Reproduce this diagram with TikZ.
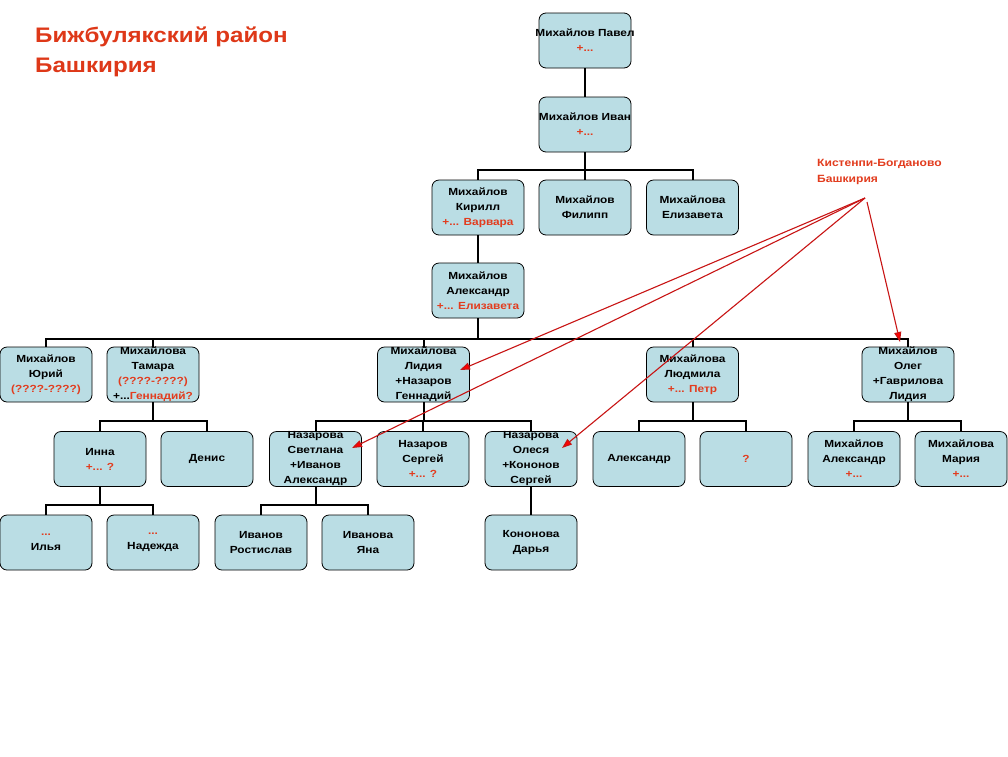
\documentclass[tikz,border=0pt]{standalone}
\usepackage{fontspec}
\setmainfont[FakeStretch=1.15]{Liberation Sans}
\usetikzlibrary{arrows.meta,calc}
\definecolor{boxfill}{RGB}{186,221,228}
\definecolor{redtxt}{RGB}{226,60,30}
\definecolor{titlered}{RGB}{222,56,24}
\definecolor{arrowred}{RGB}{200,20,20}
\newcommand{\rd}[1]{\textcolor{redtxt}{#1}}
\newcommand{\fit}[1]{\makebox[88pt][c]{#1}}
\begin{document}
\begin{tikzpicture}[x=1pt,y=-1pt,
  person/.style={draw=black,line width=0.8pt,fill=boxfill,rounded corners=7pt,
    minimum width=92pt,minimum height=55pt,inner sep=0pt,align=center,
    font=\fontsize{10.3}{15}\selectfont\bfseries},
  link/.style={draw=black,line width=2pt},
  note/.style={draw=arrowred,line width=1.1pt,-{Triangle[length=10pt,width=7pt,fill=red]}},
  title/.style={font=\fontsize{21}{30}\selectfont\bfseries,text=titlered,align=left,anchor=north west,inner sep=0pt},
  place/.style={font=\fontsize{10.5}{16}\selectfont\bfseries,text=redtxt,align=left,anchor=north west,inner sep=0pt}]
\useasboundingbox (0,0) rectangle (1008,756);
\fill[white] (0,0) rectangle (1008,756);

% title and annotation
\node[title] (ttl) at (35,27) {Бижбулякский район\\Башкирия};
\node[place] (plc) at (817,159) {Кистенпи-Богданово\\Башкирия};

% row 1-2
\node[person] (pavel) at (585,40.5) {\fit{Михайлов Павел}\\\rd{+...}};
\node[person] (ivan) at (585,124.5) {\fit{Михайлов Иван}\\\rd{+...}};
% row 3
\node[person] (kirill) at (478,207.5) {Михайлов\\Кирилл\\\rd{+... Варвара}};
\node[person] (filipp) at (585,207.5) {Михайлов\\Филипп};
\node[person] (eliz) at (692.5,207.5) {Михайлова\\Елизавета};
% row 4
\node[person] (alex) at (478,290.5) {Михайлов\\Александр\\\rd{+... Елизавета}};
% row 5
\node[person] (yuri) at (46,374.5) {Михайлов\\Юрий\\\rd{(????-????)}};
\node[person] (tamara) at (153,374.5) {Михайлова\\Тамара\\\rd{(????-????)}\\+...\rd{Геннадий?}};
\node[person] (lidiya) at (423.5,374.5) {Михайлова\\Лидия\\+Назаров\\Геннадий};
\node[person] (lyudmila) at (692.5,374.5) {Михайлова\\Людмила\\\rd{+... Петр}};
\node[person] (oleg) at (908,374.5) {Михайлов\\Олег\\+Гаврилова\\Лидия};
% row 6
\node[person] (inna) at (100,459) {Инна\\\rd{+... ?}};
\node[person] (denis) at (207,459) {Денис};
\node[person] (svetlana) at (315.5,459) {Назарова\\Светлана\\+Иванов\\Александр};
\node[person] (sergey) at (423,459) {Назаров\\Сергей\\\rd{+... ?}};
\node[person] (olesya) at (531,459) {Назарова\\Олеся\\+Кононов\\Сергей};
\node[person] (alexL) at (639,459) {Александр};
\node[person] (unk) at (746,459) {\rd{?}};
\node[person] (alexM) at (854,459) {Михайлов\\Александр\\\rd{+...}};
\node[person] (mariya) at (961,459) {Михайлова\\Мария\\\rd{+...}};
% row 7
\node[person] (ilya) at (46,542.5) {\rd{...}\\Илья};
\node[person] (nadezhda) at (153,542.5) {\rd{...}\\Надежда};
\node[person] (rostislav) at (261,542.5) {Иванов\\Ростислав};
\node[person] (yana) at (368,542.5) {Иванова\\Яна};
\node[person] (darya) at (531,542.5) {Кононова\\Дарья};

% bar coordinates
\coordinate (b1) at (585,170);
\coordinate (b2) at (478,339);
\coordinate (b3) at (153,421);
\coordinate (b4) at (423.5,421);
\coordinate (b5) at (692.5,421);
\coordinate (b6) at (908,421);
\coordinate (b7) at (100,505);
\coordinate (b8) at (315.5,505);

% connectors
\draw[link] (pavel) -- (ivan);
\draw[link] (ivan.south) -- (b1);
\draw[link] (kirill.north) |- (eliz.north |- b1) -- (eliz.north);
\draw[link] (filipp.north) -- (filipp.north |- b1);
\draw[link] (kirill) -- (alex);
\draw[link] (alex.south) -- (b2);
\draw[link] (yuri.north) |- (oleg.north |- b2) -- (oleg.north);
\draw[link] (tamara.north) -- (tamara.north |- b2);
\draw[link] (lidiya.north) -- (lidiya.north |- b2);
\draw[link] (lyudmila.north) -- (lyudmila.north |- b2);
\draw[link] (tamara.south) -- (b3);
\draw[link] (inna.north) |- (denis.north |- b3) -- (denis.north);
\draw[link] (lidiya.south) -- (b4);
\draw[link] (svetlana.north) |- (olesya.north |- b4) -- (olesya.north);
\draw[link] (sergey.north) -- (sergey.north |- b4);
\draw[link] (lyudmila.south) -- (b5);
\draw[link] (alexL.north) |- (unk.north |- b5) -- (unk.north);
\draw[link] (oleg.south) -- (b6);
\draw[link] (alexM.north) |- (mariya.north |- b6) -- (mariya.north);
\draw[link] (inna.south) -- (b7);
\draw[link] (ilya.north) |- (nadezhda.north |- b7) -- (nadezhda.north);
\draw[link] (svetlana.south) -- (b8);
\draw[link] (rostislav.north) |- (yana.north |- b8) -- (yana.north);
\draw[link] (olesya) -- (darya);

% red arrows
\coordinate (src) at (865,198);
\coordinate (src2) at (867,202);
\draw[note] (src) -- ($(lidiya.center)+(36.5,-4.5)$);
\draw[note] (src) -- ($(svetlana.center)+(36.5,-11)$);
\draw[note] (src) -- ($(olesya.center)+(31,-11)$);
\draw[note] (src2) -- ($(oleg.center)+(-8,-32.5)$);
\end{tikzpicture}
\end{document}
